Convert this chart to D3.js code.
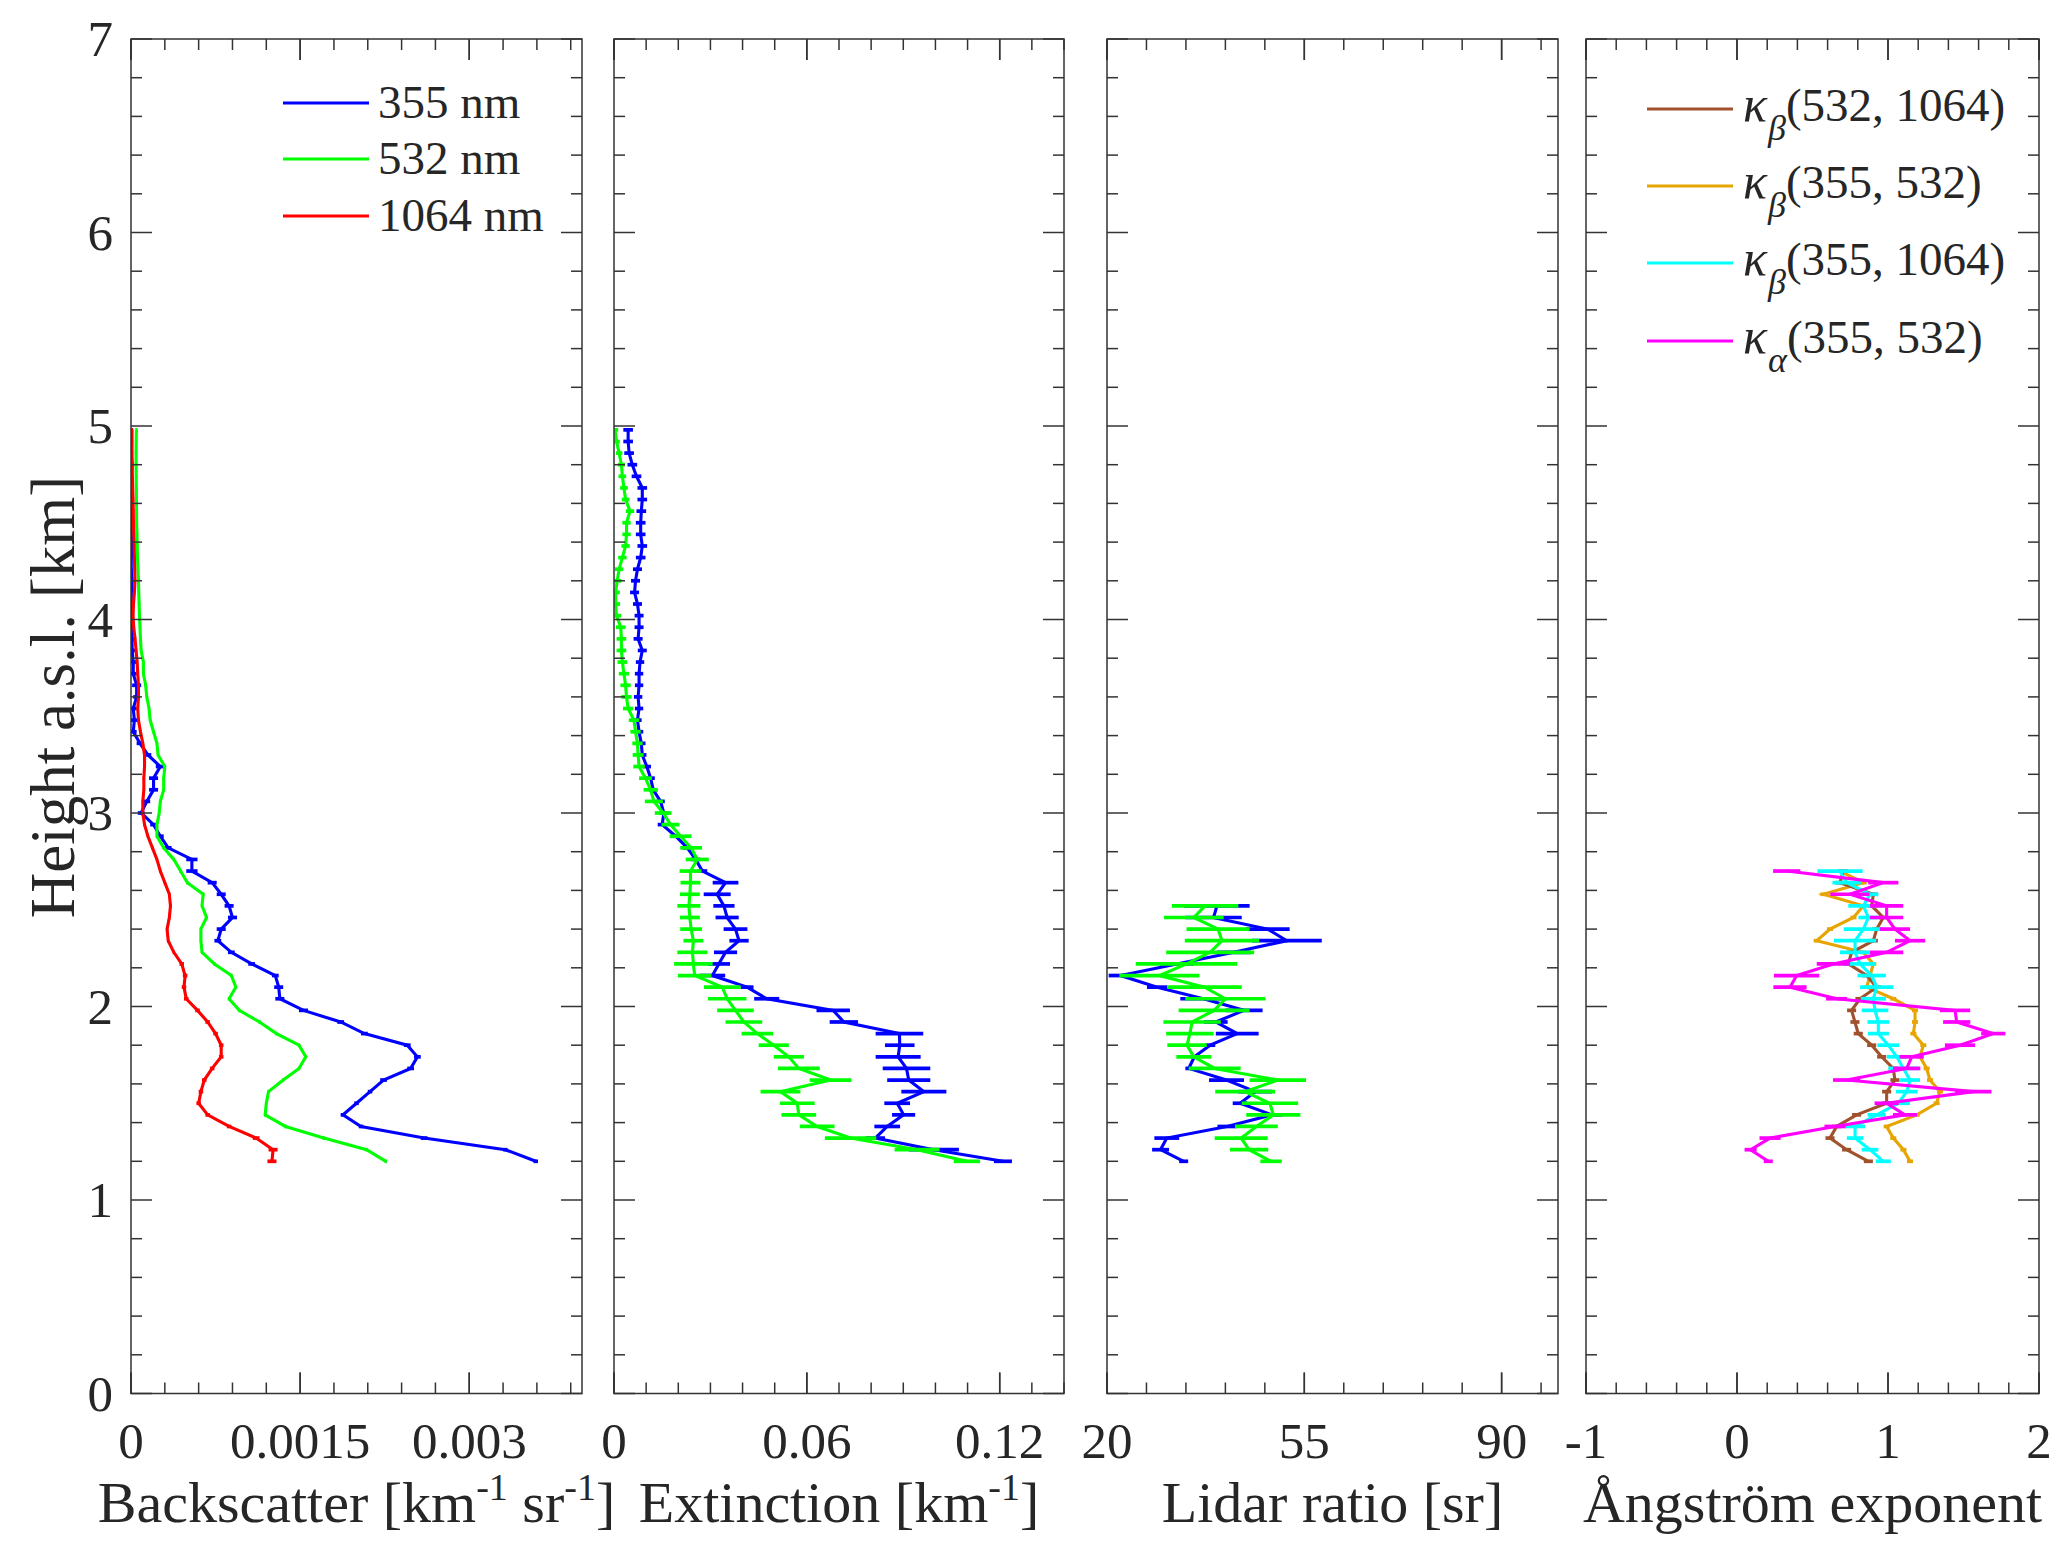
<!DOCTYPE html>
<html><head><meta charset="utf-8">
<script src="https://cdn.jsdelivr.net/npm/d3@7"></script>
<style>
body{margin:0;background:#fff}
text{font-family:"Liberation Serif","DejaVu Serif","Times New Roman",serif;fill:#262626}
</style>
</head><body>
<svg id="c" width="2066" height="1547" xmlns="http://www.w3.org/2000/svg"></svg>
<script>
// ---------- DATA ----------
const heights = [1.20,1.26,1.32,1.38,1.44,1.50,1.56,1.62,1.68,1.74,1.80,1.86,1.92,1.98,2.04,2.10,2.16,2.22,2.28,2.34,2.40,2.46,2.52,2.58,2.64,2.70,2.76,2.82,2.88,2.94,3.00,3.06,3.12,3.18,3.24,3.30,3.36,3.42,3.48,3.54,3.60,3.66,3.72,3.78,3.84,3.90,3.96,4.02,4.08,4.14,4.20,4.26,4.32,4.38,4.44,4.50,4.56,4.62,4.68,4.74,4.80,4.86,4.92,4.98];

// Backscatter [km-1 sr-1]
const bsc355 = [0.00359,0.00332,0.00260,0.00204,0.00188,0.00200,0.00212,0.00224,0.00248,0.00254,0.00245,0.00207,0.00186,0.00153,0.00132,0.00131,0.00128,0.00107,0.00089,0.00077,0.00080,0.00090,0.00087,0.00080,0.00072,0.00054,0.00054,0.00033,0.00026,0.00020,0.00009,0.00014,0.00020,0.00020,0.00026,0.00015,0.00008,0.00002,0.00003,0.00002,0.00005,0.00005,0.00002,0.00002,0.00001,0.00001,0.000003,0.00001,0.000002,0.000003,0.00001,0.000002,0.000003,0.00001,0.000002,0.000003,0.000004,0.00001,0.000002,0.000003,0.00001,0.000002,0.000003,0.000004];
const bsc355err = [0.00002,0.00002,0.00003,0.00002,0.00002,0.00002,0.00002,0.00003,0.00003,0.00003,0.00003,0.00003,0.00003,0.00004,0.00004,0.00004,0.00003,0.00003,0.00003,0.00003,0.00004,0.00004,0.00004,0.00004,0.00004,0.00005,0.00005,0.00003,0.00003,0.00003,0.00003,0.00003,0.00004,0.00004,0.00004,0.00003,0.00003,0.00003,0.00003,0.00003,0.00003,0.00004,0.00003,0.00003,0.00003,0.00003,0.00001,0.00001,0.00001,0.00001,0.00001,0.00001,0.00001,0.00001,0.00001,0.00001,0.00001,0.00001,0.00001,0.00001,0.00001,0.00001,0.00001,0.00001];
const bsc532 = [0.00226,0.00209,0.00171,0.00137,0.00119,0.00120,0.00122,0.00135,0.00149,0.00155,0.00149,0.00129,0.00114,0.00096,0.00087,0.00093,0.00089,0.00074,0.00063,0.00062,0.00062,0.00067,0.00063,0.00064,0.00050,0.00044,0.00038,0.00029,0.00023,0.00023,0.00025,0.00026,0.00029,0.00029,0.00030,0.00024,0.00023,0.00020,0.00017,0.00016,0.00014,0.00013,0.00011,0.00011,0.00009,0.000084,0.00008,0.000075,0.000072,0.000069,0.000066,0.000062,0.000058,0.000055,0.000053,0.00005,0.000049,0.000048,0.000047,0.000046,0.000045,0.000045,0.000046,0.000048];
const bsc532err = [0.00001,0.00001,0.00001,0.00001,0.00001,0.00001,0.00001,0.00001,0.00001,0.00001,0.00001,0.00001,0.00001,0.00001,0.00001,0.00001,0.00001,0.00001,0.00001,0.00001,0.00001,0.00001,0.00001,0.00001,0.00001,0.00001,0.00001,0.00001,0.00001,0.00001,0.00001,0.00001,0.00001,0.00001,0.00001,0.00001,0.00001,0.00001,0.00001,0.00001,0.00001,0.00001,0.00001,0.00001,0.00001,0.00001,0.00001,0.00001,0.00001,0.00001,0.00001,0.00001,0.00001,0.00001,0.00001,0.00001,0.00001,0.00001,0.00001,0.00001,0.00001,0.00001,0.00001,0.00001];
const bsc1064 = [0.00125,0.00126,0.00111,0.00087,0.00068,0.00060,0.00062,0.00065,0.00072,0.00080,0.00080,0.00075,0.00068,0.00059,0.00049,0.00047,0.00048,0.00045,0.00038,0.00033,0.00032,0.00034,0.00035,0.00034,0.00030,0.00026,0.00023,0.00019,0.00015,0.00012,0.000105,0.000105,0.000114,0.000114,0.00012,0.00012,0.000105,0.000084,0.000066,0.00006,0.000066,0.000066,0.00006,0.000054,0.000045,0.000036,0.000024,0.000018,0.000022,0.00003,0.000035,0.000033,0.00003,0.000028,0.000025,0.000022,0.00002,0.000018,0.000015,0.000012,0.00001,0.000009,0.000009,0.000009];
const bsc1064err = [0.00004,0.00004,0.00003,0.00002,0.00002,0.00002,0.00002,0.00002,0.00002,0.00002,0.00002,0.00002,0.00002,0.00002,0.00002,0.00002,0.00002,0.00002,0.00001,0.00001,0.00001,0.00001,0.00001,0.00001,0.00001,0.00001,0.00001,0.00001,0.00001,0.00001,0.00001,0.00001,0.00001,0.00001,0.00001,0.00001,0.00001,0.00001,0.00001,0.00001,0.00001,0.00001,0.00001,0.00001,0.00001,0.00001,0.00001,0.00001,0.00001,0.00001,0.00001,0.00001,0.00001,0.00001,0.00001,0.00001,0.00001,0.00001,0.00001,0.00001,0.00001,0.00001,0.00001,0.00001];

// Extinction [km-1]
const ext355 = [0.1210,0.0995,0.0813,0.0850,0.0901,0.0881,0.0964,0.0917,0.0910,0.0884,0.0889,0.0888,0.0715,0.0682,0.0475,0.0414,0.0306,0.0326,0.0347,0.0389,0.0378,0.0352,0.0342,0.0321,0.0347,0.0275,0.0254,0.0228,0.0192,0.0150,0.0155,0.0145,0.0122,0.0114,0.0102,0.0088,0.0085,0.0078,0.0073,0.0078,0.0075,0.0078,0.0078,0.0081,0.0088,0.0075,0.0078,0.0078,0.0073,0.0064,0.0067,0.0073,0.0083,0.0088,0.0083,0.0083,0.0085,0.0088,0.0088,0.0070,0.0057,0.0047,0.0044,0.0044];
const ext355err = [0.0028,0.0078,0.0030,0.0040,0.0036,0.0040,0.0070,0.0067,0.0074,0.0070,0.0046,0.0074,0.0044,0.0052,0.0039,0.0020,0.0040,0.0035,0.0036,0.0030,0.0037,0.0036,0.0033,0.0042,0.0040,0.0015,0.0015,0.0014,0.0014,0.0014,0.0014,0.0013,0.0013,0.0013,0.0013,0.0013,0.0013,0.0013,0.0013,0.0013,0.0013,0.0013,0.0013,0.0013,0.0014,0.0014,0.0014,0.0014,0.0014,0.0014,0.0014,0.0014,0.0015,0.0015,0.0015,0.0015,0.0015,0.0015,0.0015,0.0015,0.0015,0.0015,0.0015,0.0015];
const ext532 = [0.1098,0.0943,0.0736,0.0632,0.0575,0.0570,0.0518,0.0674,0.0575,0.0544,0.0497,0.0446,0.0404,0.0378,0.0352,0.0337,0.0251,0.0247,0.0244,0.0247,0.0240,0.0236,0.0233,0.0236,0.0238,0.0238,0.0259,0.0240,0.0207,0.0176,0.0153,0.0124,0.0114,0.0098,0.0078,0.0075,0.0073,0.0067,0.0062,0.0044,0.0039,0.0036,0.0031,0.0026,0.0023,0.0023,0.0021,0.0008,0.0005,0.0005,0.0010,0.0016,0.0026,0.0036,0.0039,0.0039,0.0050,0.0036,0.0031,0.0026,0.0023,0.0016,0.0008,0.0003];
const ext532err = [0.0041,0.0070,0.0080,0.0054,0.0054,0.0054,0.0062,0.0065,0.0065,0.0047,0.0047,0.0049,0.0057,0.0057,0.0060,0.0057,0.0052,0.0060,0.0047,0.0031,0.0034,0.0031,0.0036,0.0031,0.0031,0.0034,0.0036,0.0034,0.0034,0.0028,0.0026,0.0028,0.0022,0.0020,0.0018,0.0017,0.0016,0.0016,0.0016,0.0016,0.0016,0.0016,0.0016,0.0015,0.0015,0.0015,0.0015,0.0014,0.0014,0.0013,0.0013,0.0013,0.0013,0.0013,0.0013,0.0013,0.0013,0.0012,0.0012,0.0012,0.0011,0.0010,0.0010,0.0010];

// Lidar ratio [sr] (1.20 - 2.52 km)
const lrHeights = [1.20,1.26,1.32,1.38,1.44,1.50,1.56,1.62,1.68,1.74,1.80,1.86,1.92,1.98,2.04,2.10,2.16,2.22,2.28,2.34,2.40,2.46,2.52];
const lr355 = [33.6,29.5,30.6,41.3,49.3,43.6,46.3,41.2,34.5,35.5,38.3,43.1,39.3,44.3,37.1,28.9,22.4,32.4,42.5,51.9,48.5,38.9,39.5];
const lr355err = [0.8,1.5,2.2,1.7,1.8,1.3,3.0,3.1,0.6,0.5,0.9,3.8,2.1,3.3,4.1,1.8,2.1,3.0,3.0,6.2,3.9,5.0,5.8];
const lr532 = [49.1,45.2,43.8,46.5,49.5,48.9,44.5,50.3,39.1,35.4,34.2,34.7,35.1,39.0,41.0,37.3,29.3,34.1,38.3,40.4,39.7,35.4,37.4];
const lr532err = [1.9,3.4,4.7,3.8,4.8,5.0,5.3,5.0,4.6,3.1,3.5,4.2,5.1,6.3,7.1,6.6,7.1,9.0,7.8,6.6,5.6,5.3,5.9];

// Angstrom exponents (1.20 - 2.70 km)
const aeHeights = [1.20,1.26,1.32,1.38,1.44,1.50,1.56,1.62,1.68,1.74,1.80,1.86,1.92,1.98,2.04,2.10,2.16,2.22,2.28,2.34,2.40,2.46,2.52,2.58,2.64,2.70];
const aeB532_1064 = [0.870,0.726,0.616,0.660,0.792,0.991,0.991,1.046,1.035,0.958,0.892,0.803,0.781,0.759,0.814,0.925,0.859,0.737,0.759,0.903,0.925,0.969,0.892,0.903,0.682,0.704];
const aeB532_1064err = [0.03,0.03,0.03,0.03,0.03,0.03,0.03,0.03,0.03,0.03,0.03,0.03,0.03,0.03,0.03,0.03,0.03,0.03,0.03,0.03,0.03,0.03,0.03,0.03,0.03,0.03];
const aeB355_532 = [1.146,1.102,1.035,0.991,1.190,1.322,1.344,1.278,1.256,1.212,1.234,1.168,1.179,1.179,1.035,0.859,0.881,0.903,0.837,0.528,0.616,0.771,0.837,0.572,0.837,0.682];
const aeB355_532err = [0.02,0.02,0.02,0.02,0.02,0.02,0.02,0.02,0.02,0.02,0.02,0.02,0.02,0.02,0.02,0.02,0.02,0.02,0.02,0.02,0.02,0.02,0.02,0.02,0.02,0.02];
const aeB355_1064 = [0.969,0.881,0.782,0.782,0.925,1.068,1.124,1.146,1.102,1.058,1.002,0.936,0.936,0.914,0.903,0.925,0.892,0.815,0.782,0.782,0.837,0.870,0.837,0.881,0.726,0.682];
const aeB355_1064err = [0.05,0.055,0.055,0.066,0.06,0.077,0.072,0.066,0.10,0.066,0.072,0.07,0.072,0.088,0.083,0.11,0.094,0.105,0.10,0.14,0.13,0.066,0.10,0.055,0.094,0.15];
const aeA355_532 = [0.207,0.090,0.219,0.649,1.113,0.991,1.565,0.726,1.124,1.157,1.477,1.697,1.455,1.444,0.660,0.351,0.395,0.638,0.991,1.146,1.046,0.991,0.991,0.748,0.969,0.329];
const aeA355_532err = [0.03,0.04,0.07,0.07,0.08,0.08,0.12,0.09,0.09,0.08,0.10,0.08,0.09,0.10,0.07,0.11,0.15,0.11,0.11,0.10,0.10,0.11,0.11,0.13,0.10,0.09];

// Axis ticks
const yTicks = [0,1,2,3,4,5,6,7];
const yTickLabels = ["0","1","2","3","4","5","6","7"];
const p1Ticks = [0,0.0015,0.003], p1Labels = ["0","0.0015","0.003"];
const p2Ticks = [0,0.06,0.12], p2Labels = ["0","0.06","0.12"];
const p3Ticks = [20,55,90], p3Labels = ["20","55","90"];
const p4Ticks = [-1,0,1,2], p4Labels = ["-1","0","1","2"];

// ---------- DRAWING ----------
const svg = d3.select('#c');
const TOP = 39, BOTTOM = 1393.5;
const y = d3.scaleLinear().domain([0,7]).range([BOTTOM, TOP]);
const LW = 3.1;

const panels = [
  {x0:131, x1:582, domain:[0,0.004], ticks:p1Ticks, labels:p1Labels, minor:d3.range(0,0.00401,0.0003), yLabels:true,
   label:[["Backscatter [km",0],["-1",1],[" sr",0],["-1",1],["]",0]],
   series:[
     {h:heights, v:bsc355, e:bsc355err, c:"#0000FF"},
     {h:heights, v:bsc532, e:bsc532err, c:"#00FF00"},
     {h:heights, v:bsc1064, e:bsc1064err, c:"#FF0000"}]},
  {x0:614, x1:1064, domain:[0,0.14], ticks:p2Ticks, labels:p2Labels, minor:d3.range(0,0.1401,0.01),
   label:[["Extinction [km",0],["-1",1],["]",0]],
   series:[
     {h:heights, v:ext355, e:ext355err, c:"#0000FF"},
     {h:heights, v:ext532, e:ext532err, c:"#00FF00"}]},
  {x0:1107, x1:1558, domain:[20,100], ticks:p3Ticks, labels:p3Labels, minor:d3.range(20,100.01,7),
   label:[["Lidar ratio [sr]",0]],
   series:[
     {h:lrHeights, v:lr355, e:lr355err, c:"#0000FF"},
     {h:lrHeights, v:lr532, e:lr532err, c:"#00FF00"}]},
  {x0:1586, x1:2039, domain:[-1,2], ticks:p4Ticks, labels:p4Labels, minor:d3.range(-1,2.001,0.2),
   label:[["Ångström exponent",0]],
   series:[
     {h:aeHeights, v:aeB355_532, e:aeB355_532err, c:"#E6A500"},
     {h:aeHeights, v:aeB532_1064, e:aeB532_1064err, c:"#A0522D"},
     {h:aeHeights, v:aeB355_1064, e:aeB355_1064err, c:"#00FFFF"},
     {h:aeHeights, v:aeA355_532, e:aeA355_532err, c:"#FF00FF"}]}
];

const AX = "#333333";
const yMinor = d3.range(0,7.001,0.2);

panels.forEach((p,i)=>{
  const x = d3.scaleLinear().domain(p.domain).range([p.x0,p.x1]);
  const g = svg.append('g');
  const clipId = 'clip'+i;
  svg.append('clipPath').attr('id',clipId).append('rect')
     .attr('x',p.x0).attr('y',TOP).attr('width',p.x1-p.x0).attr('height',BOTTOM-TOP);

  // data
  const dg = g.append('g').attr('clip-path',`url(#${clipId})`);
  p.series.forEach(s=>{
    const pts = s.h.map((h,k)=>({h, v:s.v[k], e:s.e[k]}));
    dg.append('g').selectAll('line').data(pts).join('line')
      .attr('x1',d=>x(d.v-d.e)).attr('x2',d=>x(d.v+d.e))
      .attr('y1',d=>y(d.h)).attr('y2',d=>y(d.h))
      .attr('stroke',s.c).attr('stroke-width',LW+0.6);
    dg.append('path').datum(pts)
      .attr('d',d3.line().x(d=>x(d.v)).y(d=>y(d.h)))
      .attr('fill','none').attr('stroke',s.c).attr('stroke-width',LW).attr('stroke-linejoin','miter');
  });

  // box
  g.append('rect').attr('x',p.x0).attr('y',TOP).attr('width',p.x1-p.x0).attr('height',BOTTOM-TOP)
    .attr('fill','none').attr('stroke',AX).attr('stroke-width',1.5);

  // x ticks (bottom and top, inward)
  const tg = g.append('g').attr('stroke',AX).attr('stroke-width',1.5);
  const isMajorX = v => p.ticks.some(t=>Math.abs(t-v)<1e-9*Math.max(1,Math.abs(t))+1e-12);
  p.minor.forEach(v=>{
    const L = isMajorX(v) ? 21 : 11;
    const xx = x(v);
    tg.append('line').attr('x1',xx).attr('x2',xx).attr('y1',BOTTOM).attr('y2',BOTTOM-L);
    tg.append('line').attr('x1',xx).attr('x2',xx).attr('y1',TOP).attr('y2',TOP+L);
  });
  p.ticks.forEach(v=>{
    const xx = x(v);
    tg.append('line').attr('x1',xx).attr('x2',xx).attr('y1',BOTTOM).attr('y2',BOTTOM-21);
    tg.append('line').attr('x1',xx).attr('x2',xx).attr('y1',TOP).attr('y2',TOP+21);
  });
  // y ticks (left and right, inward)
  yMinor.forEach(v=>{
    const major = Math.abs(v-Math.round(v))<1e-6;
    const L = major ? 21 : 11;
    const yy = y(v);
    tg.append('line').attr('x1',p.x0).attr('x2',p.x0+L).attr('y1',yy).attr('y2',yy);
    tg.append('line').attr('x1',p.x1).attr('x2',p.x1-L).attr('y1',yy).attr('y2',yy);
  });

  // x tick labels
  g.append('g').selectAll('text').data(p.ticks).join('text')
    .attr('x',d=>x(d)).attr('y',1458).attr('text-anchor','middle')
    .attr('font-size',51).text((d,k)=>p.labels[k]);

  // x label
  const lt = g.append('text').attr('x',(p.x0+p.x1)/2).attr('y',1522)
    .attr('text-anchor','middle').attr('font-size',58);
  let prevSup = false;
  p.label.forEach(([t,sup])=>{
    const ts = lt.append('tspan').text(t);
    if(sup){ ts.attr('font-size',38).attr('dy', prevSup?0:-22); }
    else { ts.attr('dy', prevSup?22:0); }
    prevSup = !!sup;
  });

  if(p.yLabels){
    g.append('g').selectAll('text').data(yTicks).join('text')
      .attr('x',113).attr('y',d=>y(d)+17).attr('text-anchor','end')
      .attr('font-size',51).text((d,k)=>yTickLabels[k]);
  }
});

// y label
svg.append('text').attr('transform','translate(74,697) rotate(-90)')
  .attr('text-anchor','middle').attr('font-size',63).text('Height a.s.l. [km]');

// legend panel 1
const leg1 = [["355 nm","#0000FF"],["532 nm","#00FF00"],["1064 nm","#FF0000"]];
const leg1Y = [103,159,216];
leg1.forEach(([t,c],k)=>{
  svg.append('line').attr('x1',283).attr('x2',369).attr('y1',leg1Y[k]).attr('y2',leg1Y[k])
    .attr('stroke',c).attr('stroke-width',LW);
  svg.append('text').attr('x',378).attr('y',leg1Y[k]+15).attr('font-size',47).text(t);
});

// legend panel 4
const leg4 = [["β","(532, 1064)","#A0522D"],["β","(355, 532)","#E6A500"],["β","(355, 1064)","#00FFFF"],["α","(355, 532)","#FF00FF"]];
const leg4Y = [109,186,263,341];
leg4.forEach(([sub,t,c],k)=>{
  svg.append('line').attr('x1',1647).attr('x2',1733).attr('y1',leg4Y[k]).attr('y2',leg4Y[k])
    .attr('stroke',c).attr('stroke-width',LW);
  const tx = svg.append('text').attr('x',1743).attr('y',leg4Y[k]+12).attr('font-size',47);
  tx.append('tspan').attr('font-style','italic').attr('font-size',50).text('κ');
  tx.append('tspan').attr('font-style','italic').attr('font-size',36).attr('dy',19).attr('dx',1).text(sub);
  tx.append('tspan').attr('dy',-19).text(t);
});
</script>
</body></html>
